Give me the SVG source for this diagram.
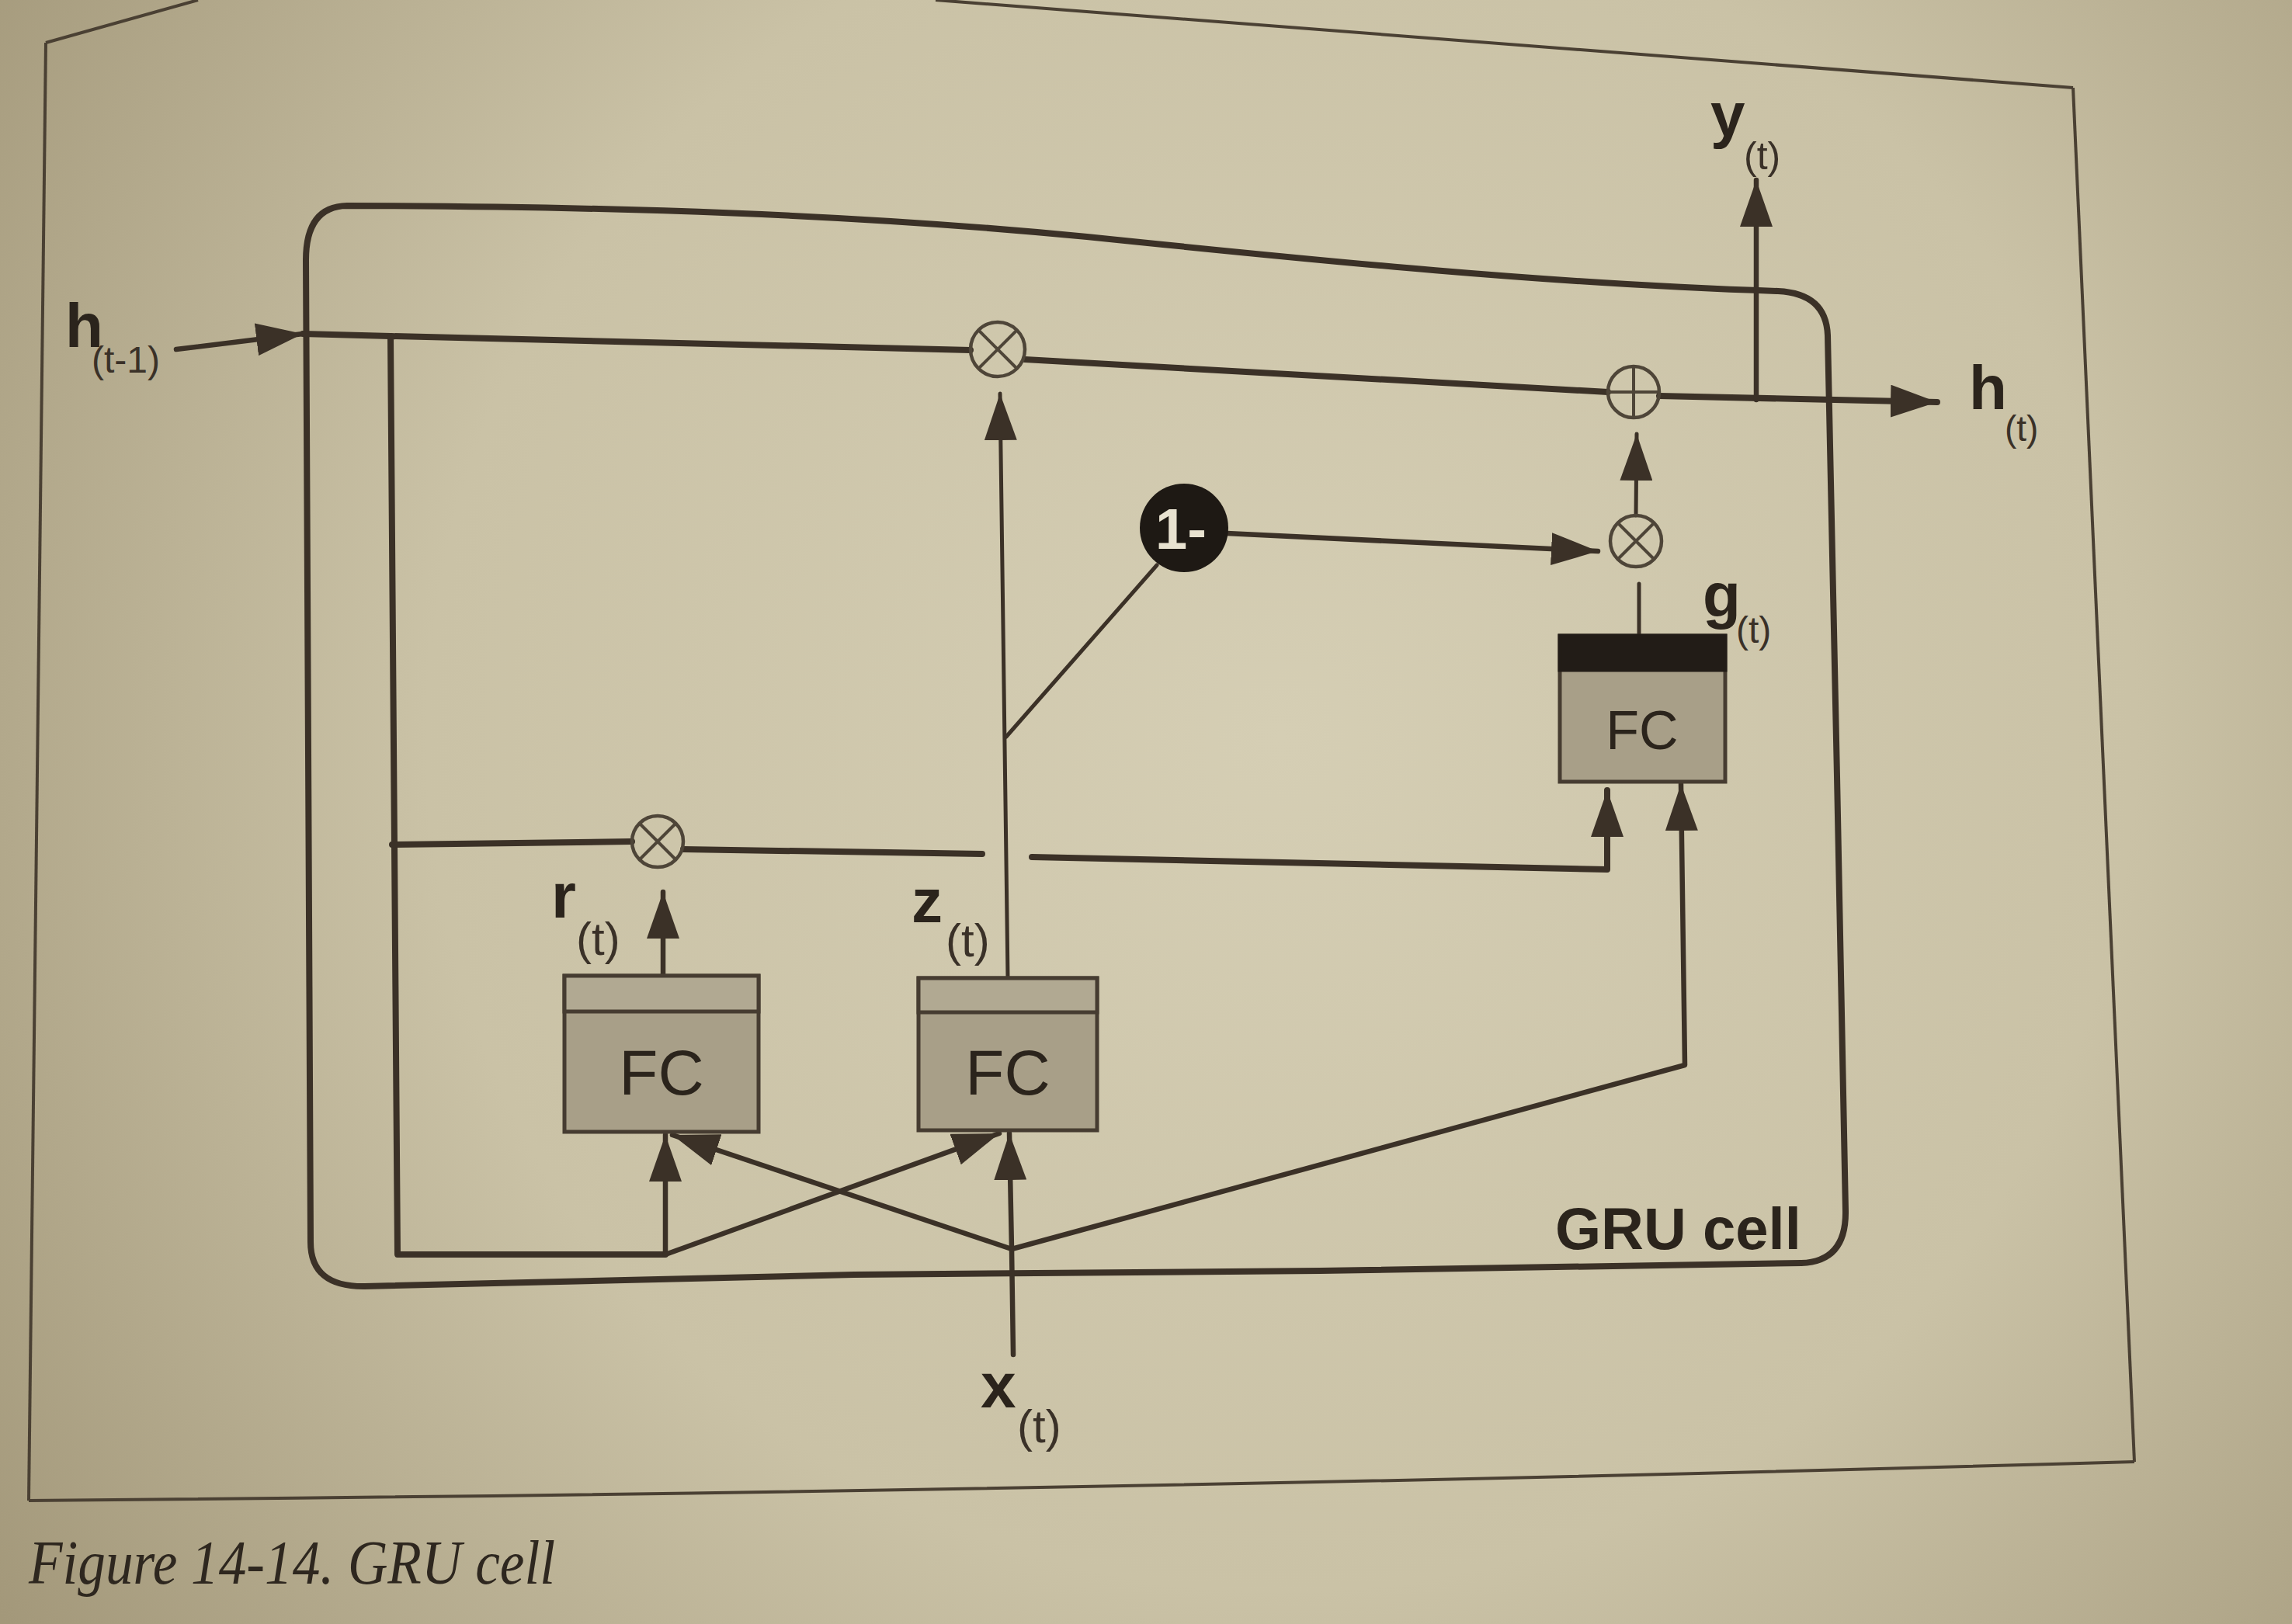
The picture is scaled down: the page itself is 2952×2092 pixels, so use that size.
<svg xmlns="http://www.w3.org/2000/svg" width="2952" height="2092" viewBox="0 0 2952 2092">
<defs>
<radialGradient id="paper" cx="1650" cy="950" r="2000" gradientUnits="userSpaceOnUse">
<stop offset="0" stop-color="#d5ceb4"/>
<stop offset="0.55" stop-color="#cac2a6"/>
<stop offset="1" stop-color="#a3987a"/>
</radialGradient>
<marker id="ah" viewBox="0 0 60 42" refX="60" refY="21" markerWidth="60" markerHeight="42" markerUnits="userSpaceOnUse" orient="auto">
<path d="M0,0 L60,21 L0,42 z" fill="#3b3127"/>
</marker>
<style>
.ln{fill:none;stroke:#3b3127;stroke-linecap:round;stroke-linejoin:round}
.thick{stroke-width:8}
.mid{stroke-width:6.5}
.thin{stroke-width:5}
.frame{fill:none;stroke:#4a4033;stroke-width:4}
.op{fill:none;stroke:#4e4538;stroke-width:4.5}
.opx{stroke:#4e4538;stroke-width:4;fill:none}
.box{fill:#a89f88;stroke:#463c31;stroke-width:5}
.band{fill:#b1a992;stroke:#463c31;stroke-width:5}
.lbl{font-family:"Liberation Sans",Arial,sans-serif;font-weight:bold;fill:#2b241c}
.sub{font-family:"Liberation Sans",Arial,sans-serif;fill:#3a3128}
.fc{font-family:"Liberation Sans",Arial,sans-serif;fill:#2b241c;text-anchor:middle}
</style>
</defs>
<rect x="0" y="0" width="2952" height="2092" fill="url(#paper)"/>

<g id="page-frame">
<path class="frame" d="M59,55 L255,0"/>
<path class="frame" d="M1205,0 L2670,113"/>
<path class="frame" d="M59,55 L37,1933"/>
<path class="frame" d="M2670,113 L2749,1883"/>
<path class="frame" d="M37,1933 Q1400,1922 2749,1883"/>
</g>

<g id="gru-cell">
<path class="ln thick" d="M447,265 C800,266 1100,276 1400,305 C1700,336 2000,366 2290,375 Q2352,378 2354,432 L2366,1000 L2377,1560 Q2378,1625 2320,1627 L1700,1637 L1100,1642 L470,1657 Q400,1658 400,1600 L394,335 Q394,266 447,265 Z"/>
<text class="lbl" x="2003" y="1609" font-size="76">GRU cell</text>
</g>

<g id="connectors">
<path class="ln mid" d="M227,450 L390,430" marker-end="url(#ah)"/>
<path class="ln thick" d="M390,430 L503,433 L1250,451"/>
<path class="ln thick" d="M1320,463 L2071,505"/>
<path class="ln thick" d="M2137,510 L2495,518" marker-end="url(#ah)"/>
<path class="ln mid" d="M2262,515 L2262,232" marker-end="url(#ah)"/>
<path class="ln thick" d="M503,433 L512,1616 L857,1616"/>
<path class="ln thick" d="M505,1088 L814,1084"/>
<path class="ln thick" d="M880,1094 L1265,1100"/>
<path class="ln thick" d="M1329,1104 L2070,1120 L2070,1018" marker-end="url(#ah)"/>
<path class="ln mid" d="M857,1616 L857,1462" marker-end="url(#ah)"/>
<path class="ln mid" d="M857,1616 L1287,1460" marker-end="url(#ah)"/>
<path class="ln mid" d="M1305,1745 L1303,1609 L1300,1460" marker-end="url(#ah)"/>
<path class="ln mid" d="M1303,1609 L866,1462" marker-end="url(#ah)"/>
<path class="ln mid" d="M1303,1609 L2170,1372 L2165,1010" marker-end="url(#ah)"/>
<path class="ln mid" d="M854,1257 L854,1149" marker-end="url(#ah)"/>
<path class="ln thin" d="M1298,1260 L1288,507" marker-end="url(#ah)"/>
<path class="ln thin" d="M1296,949 L1490,728"/>
<path class="ln mid" d="M1580,687 L2058,710" marker-end="url(#ah)"/>
<path class="ln thin" d="M2107,664 L2108,559" marker-end="url(#ah)"/>
<path class="ln thin" d="M2111,752 L2111,819"/>
</g>

<g id="mul-z">
<circle class="op" cx="1285" cy="450" r="35"/>
<path class="opx" d="M1261,426 L1309,474 M1309,426 L1261,474"/>
</g>
<g id="mul-r">
<circle class="op" cx="847" cy="1084" r="33"/>
<path class="opx" d="M824,1061 L870,1107 M870,1061 L824,1107"/>
</g>
<g id="add">
<circle class="op" cx="2104" cy="505" r="33"/>
<path class="opx" d="M2071,505 L2137,505 M2104,472 L2104,538"/>
</g>
<g id="mul-g">
<circle class="op" cx="2107" cy="697" r="33"/>
<path class="opx" d="M2084,674 L2130,720 M2130,674 L2084,720"/>
</g>
<g id="one-minus">
<circle cx="1525" cy="680" r="57" fill="#1e1914"/>
<text x="1521" y="707" font-size="74" font-family="Liberation Sans,Arial,sans-serif" font-weight="bold" fill="#e8e2d0" text-anchor="middle">1-</text>
</g>

<g id="fc-r">
<rect class="box" x="727" y="1257" width="250" height="201"/>
<rect class="band" x="727" y="1257" width="250" height="46"/>
<text class="fc" x="852" y="1410" font-size="82">FC</text>
</g>
<g id="fc-z">
<rect class="box" x="1183" y="1260" width="230" height="196"/>
<rect class="band" x="1183" y="1260" width="230" height="44"/>
<text class="fc" x="1298" y="1410" font-size="82">FC</text>
</g>
<g id="fc-g">
<rect class="box" x="2009" y="819" width="213" height="188"/>
<rect x="2009" y="819" width="213" height="44" fill="#221c17" stroke="#221c17" stroke-width="5"/>
<text class="fc" x="2115" y="965" font-size="70">FC</text>
</g>

<g id="labels">
<text class="lbl" x="84" y="447" font-size="80">h</text>
<text class="sub" x="118" y="480" font-size="48">(t-1)</text>
<text class="lbl" x="2536" y="527" font-size="80">h</text>
<text class="sub" x="2582" y="568" font-size="46">(t)</text>
<text class="lbl" x="2203" y="175" font-size="80">y</text>
<text class="sub" x="2246" y="218" font-size="50">(t)</text>
<text class="lbl" x="2193" y="794" font-size="80">g</text>
<text class="sub" x="2236" y="828" font-size="48">(t)</text>
<text class="lbl" x="710" y="1182" font-size="82">r</text>
<text class="sub" x="742" y="1230" font-size="60">(t)</text>
<text class="lbl" x="1174" y="1188" font-size="80">z</text>
<text class="sub" x="1218" y="1232" font-size="60">(t)</text>
<text class="lbl" x="1263" y="1813" font-size="82">x</text>
<text class="sub" x="1310" y="1858" font-size="60">(t)</text>
</g>

<text id="caption" x="37" y="2040" font-size="80" font-family="Liberation Serif,'Times New Roman',serif" font-style="italic" fill="#2e271f" textLength="678" lengthAdjust="spacingAndGlyphs">Figure 14-14. GRU cell</text>
</svg>
